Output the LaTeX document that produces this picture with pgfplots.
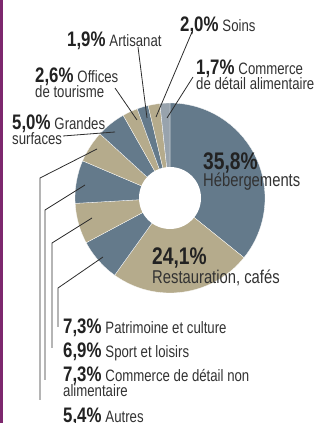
\documentclass[border=0pt]{standalone}
\usepackage{pgfplots}
\pgfplotsset{compat=1.18}
\usepackage{pgfplotstable}
\usepackage{fontspec}
\setmainfont{Liberation Sans}[FakeStretch=0.8]
\definecolor{blu}{RGB}{100,122,139}
\definecolor{tan}{RGB}{181,171,140}
\definecolor{gry}{RGB}{152,163,173}
\definecolor{purp}{RGB}{125,40,110}
\definecolor{pcol}{RGB}{34,34,34}
\definecolor{tcol}{RGB}{50,50,50}
\definecolor{lcol}{RGB}{45,45,45}
\newcommand\pb[1]{{\fontsize{21}{21}\selectfont\bfseries\color{pcol}#1}}
\newcommand\tx[1]{{\fontsize{16.5}{16.5}\selectfont\color{tcol}#1}}
\newcommand\gap{\hspace{4pt}}
\pgfplotstableread{
pct col
35.8 blu
24.1 tan
7.3 blu
6.9 tan
7.3 blu
5.4 tan
5.0 blu
2.6 tan
1.9 blu
2.0 tan
1.7 gry
}\shares
\begin{document}
\begin{tikzpicture}
\begin{axis}[x=1pt,y=1pt,xmin=0,xmax=316,ymin=0,ymax=423,
  scale only axis, hide axis, clip=false]
\coordinate (bl) at (axis cs:0,0);
\coordinate (tr) at (axis cs:316,423);
\fill[purp] (axis cs:0,0) rectangle (axis cs:3,423);
\gdef\cum{0}
\pgfplotsforeachungrouped \i in {0,...,10}{%
  \pgfplotstablegetelem{\i}{pct}\of\shares \let\v\pgfplotsretval
  \pgfplotstablegetelem{\i}{col}\of\shares \let\c\pgfplotsretval
  \pgfmathsetmacro\sa{90-3.6*\cum}%
  \pgfmathsetmacro\ea{90-3.6*(\cum+\v)}%
  \pgfmathsetmacro\newcum{\cum+\v}%
  \xdef\cum{\newcum}%
  \edef\cmd{\noexpand\fill[\c, draw=white, line width=0.3pt] (axis cs:170,225) -- ++(\sa:95pt) arc[start angle=\sa, end angle=\ea, radius=95pt] -- cycle;}%
  \cmd
}
\fill[white] (axis cs:170,225) circle[radius=31pt];
% leader lines
\begin{scope}[lcol, line width=0.8pt]
\draw (axis cs:192,391) -- (axis cs:156,306);
\draw (axis cs:138,376) -- (axis cs:147,305);
\draw (axis cs:115,335) -- (axis cs:137,303);
\draw (axis cs:193,346) -- (axis cs:167,305);
\draw (axis cs:63,287) -- (axis cs:115,291);
\draw (axis cs:97,274) -- (axis cs:40,245) -- (axis cs:40,23);
\draw (axis cs:85,238) -- (axis cs:45,213) -- (axis cs:45,43);
\draw (axis cs:92,205) -- (axis cs:52,180) -- (axis cs:52,75);
\draw (axis cs:103,166) -- (axis cs:58,135) -- (axis cs:58,96);
\end{scope}
% labels
\begin{scope}[every node/.style={anchor=base west, inner sep=0pt}]
\node at (axis cs:180,391) {\pb{2,0\%}\gap\tx{Soins}};
\node at (axis cs:67,376) {\pb{1,9\%}\gap\tx{Artisanat}};
\node at (axis cs:35,340) {\pb{2,6\%}\gap\tx{Offices}};
\node at (axis cs:35,325) {\tx{de tourisme}};
\node at (axis cs:196,348) {\pb{1,7\%}\gap\tx{Commerce}};
\node at (axis cs:196,333) {\tx{de détail alimentaire}};
\node at (axis cs:12,293) {\pb{5,0\%}\gap\tx{Grandes}};
\node at (axis cs:12,278) {\tx{surfaces}};
\node at (axis cs:203,253) {{\fontsize{24}{24}\selectfont\bfseries\color{pcol}35,8\%}};
\node at (axis cs:203,236) {{\fontsize{18.5}{18.5}\selectfont\color{tcol}Hébergements}};
\node at (axis cs:152,158) {{\fontsize{24}{24}\selectfont\bfseries\color{pcol}24,1\%}};
\node at (axis cs:152,139) {{\fontsize{18.5}{18.5}\selectfont\color{tcol}Restauration, cafés}};
\node at (axis cs:63,89) {\pb{7,3\%}\gap\tx{Patrimoine et culture}};
\node at (axis cs:63,65) {\pb{6,9\%}\gap\tx{Sport et loisirs}};
\node at (axis cs:63,41) {\pb{7,3\%}\gap\tx{Commerce de détail non}};
\node at (axis cs:63,26) {\tx{alimentaire}};
\node at (axis cs:63,1) {\pb{5,4\%}\gap\tx{Autres}};
\end{scope}
\end{axis}
\pgfresetboundingbox
\path (bl) rectangle (tr);
\end{tikzpicture}
\end{document}
